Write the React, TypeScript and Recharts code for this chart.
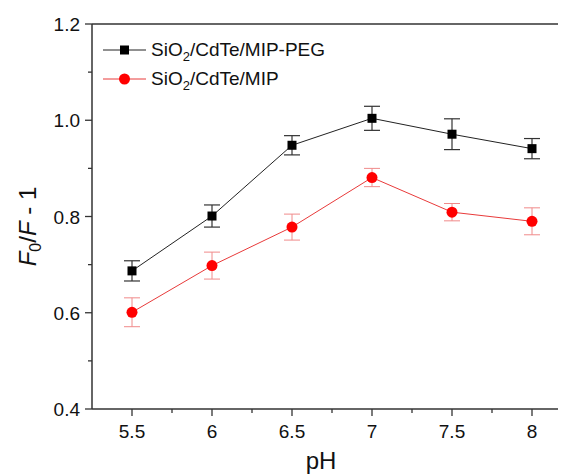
import { LineChart, Line, XAxis, YAxis, ErrorBar, ReferenceLine, Label } from 'recharts'

const phValues = [5.5, 6, 6.5, 7, 7.5, 8]
const pegValues = [0.687, 0.801, 0.948, 1.004, 0.971, 0.941]
const pegErrors = [0.021, 0.023, 0.02, 0.025, 0.032, 0.021]
const mipValues = [0.601, 0.698, 0.778, 0.881, 0.809, 0.79]
const mipErrors = [0.03, 0.028, 0.027, 0.019, 0.018, 0.028]

const xTicks = [5.5, 5.75, 6, 6.25, 6.5, 6.75, 7, 7.25, 7.5, 7.75, 8]
const yTicks = [0.4, 0.5, 0.6, 0.7, 0.8, 0.9, 1.0, 1.1, 1.2]

const data = phValues.map((ph, i) => ({
  ph,
  peg: pegValues[i],
  pegErr: pegErrors[i],
  mip: mipValues[i],
  mipErr: mipErrors[i],
}))

const FONT = '"Liberation Sans", Arial, sans-serif'
const AXIS = '#333'
const TICK = 7
const MINOR = 4
const GAP = 5

const isMult = (v: number, step: number) => Math.abs(v / step - Math.round(v / step)) < 1e-6

const XTick = (props: any) => {
  const { x, y, payload } = props
  const axisY = y - TICK - GAP
  const major = isMult(payload.value, 0.5)
  return (
    <g>
      <line x1={x} x2={x} y1={axisY} y2={axisY + (major ? TICK : MINOR)} stroke={AXIS} strokeWidth={1.3} />
      {major && (
        <text x={x} y={axisY + 29} textAnchor="middle" fontSize={19} fontFamily={FONT} fill="#111">
          {String(payload.value)}
        </text>
      )}
    </g>
  )
}

const YTick = (props: any) => {
  const { x, y, payload } = props
  const axisX = x + TICK + GAP
  const major = isMult(payload.value, 0.2)
  return (
    <g>
      <line x1={axisX - (major ? TICK : MINOR)} x2={axisX} y1={y} y2={y} stroke={AXIS} strokeWidth={1.3} />
      {major && (
        <text x={axisX - 12} y={y} dy={7} textAnchor="end" fontSize={19} fontFamily={FONT} fill="#111">
          {payload.value.toFixed(1)}
        </text>
      )}
    </g>
  )
}

const YTitle = (props: any) => {
  const vb = props.viewBox
  const x = vb.x + 28
  const y = vb.y + vb.height / 2 + 10
  return (
    <text x={x} y={y} transform={`rotate(-90 ${x} ${y})`} textAnchor="middle" fontSize={24} fontFamily={FONT} fill="#111">
      <tspan fontStyle="italic">F</tspan>
      <tspan fontSize={16} dy={5}>0</tspan>
      <tspan dy={-5}>/</tspan>
      <tspan fontStyle="italic">F</tspan>
      <tspan> - 1</tspan>
    </text>
  )
}

const renderSquare = (p: any) => (
  <rect key={`sq-${p.index}`} x={p.cx - 4.5} y={p.cy - 4.5} width={9} height={9} fill="#000" />
)
const renderCircle = (p: any) => (
  <circle key={`ci-${p.index}`} cx={p.cx} cy={p.cy} r={5.5} fill="#ff0000" />
)

const legendItems = [
  { label: 'CdTe/MIP-PEG', color: '#222', marker: 'square' },
  { label: 'CdTe/MIP', color: '#e83a3a', marker: 'circle' },
]

const LegendBox = () => (
  <div style={{ position: 'absolute', top: 27, left: 95, fontFamily: FONT, fontSize: 19, color: '#111' }}>
    {legendItems.map(item => (
      <div key={item.label} style={{ display: 'flex', alignItems: 'center', height: 29 }}>
        <svg width={43} height={14} style={{ marginRight: 5 }}>
          <line x1={0} x2={43} y1={7} y2={7} stroke={item.color} strokeWidth={1} />
          {item.marker === 'square'
            ? <rect x={17} y={2.5} width={9} height={9} fill="#000" />
            : <circle cx={21.5} cy={7} r={5.5} fill="#ff0000" />}
        </svg>
        <span style={{ whiteSpace: 'nowrap', lineHeight: '20px' }}>
          SiO<span style={{ fontSize: 13, verticalAlign: -5, lineHeight: 0 }}>2</span>/{item.label}
        </span>
      </div>
    ))}
  </div>
)

export default function App() {
  return (
    <div style={{ position: 'relative', width: 558, height: 468 }}>
      <LineChart width={558} height={468} data={data} margin={{ top: 16, right: 0, bottom: 0, left: 0 }}>
        <XAxis
          dataKey="ph"
          type="number"
          domain={[5.25, 8.2125]}
          allowDataOverflow
          ticks={xTicks}
          interval={0}
          tick={XTick}
          tickLine={false}
          tickSize={TICK}
          tickMargin={GAP}
          height={67}
          stroke={AXIS}
          strokeWidth={1.5}
        >
          <Label value="pH" position="insideBottom" offset={7} dx={-8} fontSize={24} fontFamily={FONT} fill="#111" />
        </XAxis>
        <YAxis
          type="number"
          domain={[0.4, 1.2]}
          ticks={yTicks}
          interval={0}
          tick={YTick}
          tickLine={false}
          tickSize={TICK}
          tickMargin={GAP}
          width={84}
          stroke={AXIS}
          strokeWidth={1.5}
        >
          <Label content={YTitle} />
        </YAxis>
        <ReferenceLine y={1.2} stroke={AXIS} strokeWidth={1.5} />
        <Line
          dataKey="mip"
          stroke="#e83a3a"
          strokeWidth={1}
          dot={renderCircle}
          activeDot={false}
          isAnimationActive={false}
        >
          <ErrorBar dataKey="mipErr" width={8} stroke="#f08a8a" strokeWidth={1} isAnimationActive={false} />
        </Line>
        <Line
          dataKey="peg"
          stroke="#222"
          strokeWidth={1}
          dot={renderSquare}
          activeDot={false}
          isAnimationActive={false}
        >
          <ErrorBar dataKey="pegErr" width={8} stroke="#333" strokeWidth={1.2} isAnimationActive={false} />
        </Line>
      </LineChart>
      <LegendBox />
    </div>
  )
}
